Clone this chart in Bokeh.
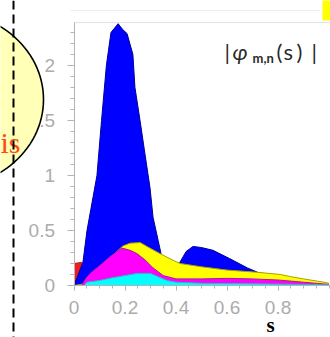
import numpy as np
from bokeh.plotting import figure
from bokeh.models import (Range1d, LinearAxis, FixedTicker, SingleIntervalTicker,
                          NumeralTickFormatter, Label, PolyAnnotation, Span, BoxAnnotation)
from bokeh.embed import file_html
from bokeh.resources import INLINE

# ---- data ----
s_red = [0.0, 0.03, 0.05, 0.1, 0.2, 0.4, 0.6, 1.0]
v_red = [0.2, 0.21, 0.18, 0.1, 0.06, 0.04, 0.03, 0.01]

s_blue = [0.0, 0.035, 0.051, 0.09, 0.108, 0.127, 0.145, 0.173, 0.19, 0.208, 0.231,
          0.239, 0.259, 0.278, 0.298, 0.31, 0.33, 0.345, 0.37, 0.40, 0.415, 0.44,
          0.467, 0.5, 0.545, 0.61, 0.68, 0.72, 0.8, 0.9, 1.0]
v_blue = [0.0, 0.21, 0.5, 1.0, 1.5, 2.0, 2.3, 2.38, 2.33, 2.29, 2.1,
          1.8, 1.5, 1.2, 0.89, 0.62, 0.41, 0.25, 0.18, 0.17, 0.21, 0.31,
          0.355, 0.345, 0.32, 0.245, 0.16, 0.12, 0.08, 0.04, 0.01]

s_yellow = [0.0, 0.05, 0.1, 0.15, 0.192, 0.22, 0.26, 0.29, 0.337, 0.388, 0.416,
            0.5, 0.6, 0.72, 0.81, 0.85, 0.9, 0.98, 1.0]
v_yellow = [0.0, 0.02, 0.12, 0.27, 0.36, 0.385, 0.39, 0.35, 0.29, 0.23, 0.2,
            0.17, 0.14, 0.12, 0.1, 0.08, 0.06, 0.03, 0.02]

s_magenta = [0.03, 0.045, 0.063, 0.1, 0.14, 0.188, 0.22, 0.247, 0.28, 0.31, 0.35,
             0.4, 0.5, 0.6, 0.7, 0.8, 0.9, 1.0]
v_magenta = [0.0, 0.06, 0.11, 0.18, 0.26, 0.34, 0.32, 0.29, 0.23, 0.16, 0.09,
             0.06, 0.06, 0.065, 0.06, 0.05, 0.03, 0.01]

s_cyan = [0.04, 0.05, 0.1, 0.15, 0.2, 0.247, 0.3, 0.33, 0.365, 0.4, 0.5, 0.7, 0.9, 1.0]
v_cyan = [0.0, 0.03, 0.045, 0.07, 0.09, 0.11, 0.11, 0.08, 0.045, 0.03, 0.02, 0.015, 0.01, 0.005]

x_major = [0, 0.2, 0.4, 0.6, 0.8]
y_top = 2.39

# ---- figure: the frame fills the canvas, axes are fixed at 0 ----
W, H = 330, 337
OX, PX = 73.5, 255.0      # pixel of s=0, pixels per unit s
OY, PY = 285.0, 110.0     # pixel of value 0, pixels per unit value
X0, X1 = -OX / PX, (W - OX) / PX
Y0, Y1 = (OY - H) / PY, OY / PY

p = figure(width=W, height=H, x_range=Range1d(X0, X1), y_range=Range1d(Y0, Y1),
           x_axis_type=None, y_axis_type=None, output_backend="svg", toolbar_location=None,
           min_border=0)
p.grid.visible = False
p.outline_line_color = None
p.background_fill_color = "white"
p.border_fill_color = "white"


def sx(cx):
    return (cx - OX) / PX


def sy(cy):
    return (OY - cy) / PY


def style_axis(ax):
    ax.axis_line_color = "#b4b4b4"
    ax.major_tick_line_color = "#b4b4b4"
    ax.minor_tick_line_color = "#b4b4b4"
    ax.major_tick_in = 0
    ax.minor_tick_in = 0
    ax.major_label_text_color = "#acacac"
    ax.major_label_text_font = "Liberation Sans"
    ax.major_label_text_font_size = "19px"
    ax.formatter = NumeralTickFormatter(format="0.[0]")


xaxis = LinearAxis(fixed_location=0, bounds=(0, X1),
                   ticker=FixedTicker(ticks=x_major,
                                      minor_ticks=np.round(np.arange(0, 1.0001, 0.05), 2).tolist()))
style_axis(xaxis)
xaxis.major_tick_out = 5
xaxis.minor_tick_out = 3
xaxis.major_label_standoff = 10
p.add_layout(xaxis, "below")

yaxis = LinearAxis(fixed_location=0, bounds=(0, y_top),
                   ticker=SingleIntervalTicker(interval=0.5, num_minor_ticks=5))
style_axis(yaxis)
yaxis.major_tick_out = 7
yaxis.minor_tick_out = 4
yaxis.major_label_standoff = 12
p.add_layout(yaxis, "left")

# top edge of the plot box
p.segment(x0=[0], y0=[y_top], x1=[X1], y1=[y_top], line_color="#e0e0e0", line_width=1)

# ---- curves ----
series = [
    (s_red, v_red, "#ee1c1c", "#c01010"),
    (s_blue, v_blue, "#0000ff", "#00009a"),
    (s_yellow, v_yellow, "#ffff00", "#a8a000"),
    (s_magenta, v_magenta, "#ff00ff", "#a0209a"),
    (s_cyan, v_cyan, "#00ffff", "#30b8c8"),
]
for s, v, fc, lc in series:
    p.varea(x=s, y1=0, y2=v, fill_color=fc)
    p.line(x=s, y=v, line_color=lc, line_width=1)

# ---- function label ----
lab_col = "#2a2a2a"
for txt, cx, cy, size, style in [("|", 224, 51, "22px", "normal"),
                                 ("φ", 232, 51, "22px", "italic"),
                                 ("m,n", 252, 57, "13px", "bold"),
                                 ("(", 276, 51, "22px", "normal"),
                                 ("s", 283, 51, "22px", "normal"),
                                 (")", 296, 51, "22px", "normal"),
                                 ("|", 311, 51, "22px", "normal")]:
    p.add_layout(Label(x=sx(cx), y=sy(cy), text=txt, text_font="Lato", text_font_size=size,
                       text_font_style=style, text_color=lab_col, text_baseline="alphabetic",
                       text_align="left"))

# ---- surrounding slide parts ----
t = np.linspace(0, 2 * np.pi, 120)
ecx, ecy, ea, eb = -55, 99, 98, 88
p.add_layout(PolyAnnotation(xs=[sx(ecx + ea * np.cos(a)) for a in t],
                            ys=[sy(ecy + eb * np.sin(a)) for a in t],
                            fill_color="#ffffb8", fill_alpha=1, line_color="black",
                            line_alpha=1, line_width=1.6))
p.add_layout(Label(x=sx(20), y=sy(142), text="is", text_font="Liberation Serif",
                   text_font_size="30px", text_color="#ff4a10", text_align="right",
                   text_baseline="alphabetic"))
p.add_layout(Span(location=sx(13), dimension="height", line_color="black", line_width=2,
                  line_dash="9 5"))
p.add_layout(BoxAnnotation(left=sx(322), right=sx(332), top=sy(-2), bottom=sy(20),
                           fill_color="#ffff00", fill_alpha=1, line_alpha=0))
p.segment(x0=[sx(70)], y0=[sy(10)], x1=[sx(320)], y1=[sy(10)], line_color="#ececec",
          line_width=1)
p.add_layout(Label(x=sx(270), y=sy(324), text="s", text_font="Liberation Serif",
                   text_font_size="21px", text_font_style="bold", text_color="black",
                   text_align="center", text_baseline="alphabetic"))

open("out.html", "w").write(file_html(p, INLINE))
